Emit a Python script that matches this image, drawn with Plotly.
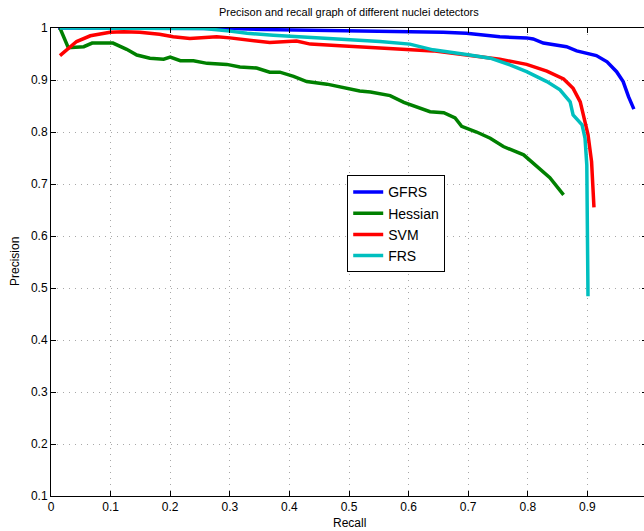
import plotly.graph_objects as go

gfrs_x = [0.012, 0.103, 0.205, 0.306, 0.357, 0.408, 0.469, 0.519, 0.586, 0.658, 0.697, 0.753, 0.798, 0.809, 0.826, 0.849, 0.865, 0.882, 0.915, 0.933, 0.949, 0.960, 0.969, 0.978]
gfrs_y = [1.0, 1.0, 1.0, 0.999, 0.997, 0.996, 0.996, 0.995, 0.994, 0.992, 0.990, 0.983, 0.981, 0.979, 0.971, 0.967, 0.964, 0.956, 0.947, 0.935, 0.916, 0.897, 0.868, 0.844]

hess_x = [0.015, 0.029, 0.055, 0.069, 0.104, 0.127, 0.144, 0.166, 0.189, 0.200, 0.217, 0.239, 0.262, 0.295, 0.317, 0.345, 0.367, 0.384, 0.407, 0.429, 0.463, 0.496, 0.518, 0.536, 0.569, 0.592, 0.619, 0.636, 0.659, 0.678, 0.689, 0.714, 0.737, 0.759, 0.793, 0.815, 0.837, 0.860]
hess_y = [1.0, 0.962, 0.964, 0.971, 0.971, 0.959, 0.948, 0.942, 0.94, 0.944, 0.937, 0.937, 0.932, 0.930, 0.925, 0.923, 0.915, 0.915, 0.907, 0.897, 0.892, 0.885, 0.879, 0.877, 0.87, 0.857, 0.847, 0.839, 0.837, 0.827, 0.811, 0.80, 0.788, 0.772, 0.756, 0.734, 0.712, 0.679]

svm_x = [0.015, 0.043, 0.066, 0.099, 0.122, 0.149, 0.182, 0.205, 0.233, 0.278, 0.300, 0.345, 0.367, 0.412, 0.435, 0.485, 0.518, 0.580, 0.641, 0.697, 0.753, 0.798, 0.832, 0.860, 0.876, 0.888, 0.893, 0.901, 0.907, 0.910, 0.911]
svm_y = [0.947, 0.974, 0.985, 0.992, 0.993, 0.992, 0.988, 0.983, 0.98, 0.983, 0.981, 0.975, 0.972, 0.975, 0.969, 0.966, 0.964, 0.960, 0.956, 0.948, 0.940, 0.930, 0.917, 0.902, 0.884, 0.858, 0.833, 0.795, 0.743, 0.692, 0.655]

frs_x = [0.015, 0.103, 0.205, 0.256, 0.300, 0.329, 0.373, 0.405, 0.457, 0.502, 0.552, 0.602, 0.641, 0.697, 0.737, 0.770, 0.798, 0.832, 0.854, 0.871, 0.876, 0.891, 0.896, 0.899, 0.900, 0.901]
frs_y = [1.0, 1.0, 1.0, 0.999, 0.994, 0.99, 0.986, 0.984, 0.981, 0.978, 0.974, 0.969, 0.958, 0.949, 0.942, 0.929, 0.916, 0.897, 0.881, 0.858, 0.833, 0.814, 0.788, 0.737, 0.641, 0.484]

x_ticks = [0, 0.1, 0.2, 0.3, 0.4, 0.5, 0.6, 0.7, 0.8, 0.9]
x_labels = ["0", "0.1", "0.2", "0.3", "0.4", "0.5", "0.6", "0.7", "0.8", "0.9"]
y_ticks = [0.1, 0.2, 0.3, 0.4, 0.5, 0.6, 0.7, 0.8, 0.9, 1.0]
y_labels = ["0.1", "0.2", "0.3", "0.4", "0.5", "0.6", "0.7", "0.8", "0.9", "1"]

series = [
    ("GFRS", gfrs_x, gfrs_y, "#0000ff"),
    ("Hessian", hess_x, hess_y, "#008000"),
    ("SVM", svm_x, svm_y, "#ff0000"),
    ("FRS", frs_x, frs_y, "#00bfbf"),
]

fig = go.Figure()
for name, xs, ys, col in series:
    fig.add_trace(go.Scatter(x=xs, y=ys, mode="lines", name=name,
                             line=dict(color=col, width=3.5)))

font = "Liberation Sans, Arial, Helvetica, sans-serif"
axis_common = dict(showline=True, mirror="ticks", linecolor="black", linewidth=1,
                   ticks="inside", ticklen=5, tickcolor="black", automargin=False,
                   showgrid=True, gridcolor="#a8a8a8", griddash="1px,5px", gridwidth=1,
                   zeroline=False, tickfont=dict(size=12, color="black", family=font))

fig.update_layout(
    width=648, height=531,
    margin=dict(l=51, r=1, t=28, b=35, autoexpand=False),
    paper_bgcolor="white", plot_bgcolor="white",
    font=dict(family=font, color="black", size=12),
    xaxis=dict(range=[0, 1.0], tickvals=x_ticks, ticktext=x_labels, **axis_common),
    yaxis=dict(range=[0.1, 1.0], tickvals=y_ticks, ticktext=y_labels, **axis_common),
    legend=dict(x=0.497, y=0.685, xanchor="left", yanchor="top",
                bgcolor="white", bordercolor="black", borderwidth=1,
                font=dict(size=14, color="black", family=font)),
    showlegend=True,
    annotations=[
        dict(text="Precison and recall graph of different nuclei detectors",
             xref="paper", yref="paper", x=0.5, y=1, yshift=16, xanchor="center", yanchor="middle",
             showarrow=False, font=dict(size=11, color="black", family=font)),
        dict(text="Recall", xref="paper", yref="paper", x=0.5, y=0, yshift=-27,
             xanchor="center", yanchor="middle", showarrow=False,
             font=dict(size=12, color="black", family=font)),
        dict(text="Precision", xref="paper", yref="paper", x=0, y=0.5, xshift=-36,
             xanchor="center", yanchor="middle", textangle=-90, showarrow=False,
             font=dict(size=12, color="black", family=font)),
    ],
)

fig.write_html("out.html", config={"displayModeBar": False},
               post_script="document.body.style.margin='0';document.body.style.overflow='hidden';")
